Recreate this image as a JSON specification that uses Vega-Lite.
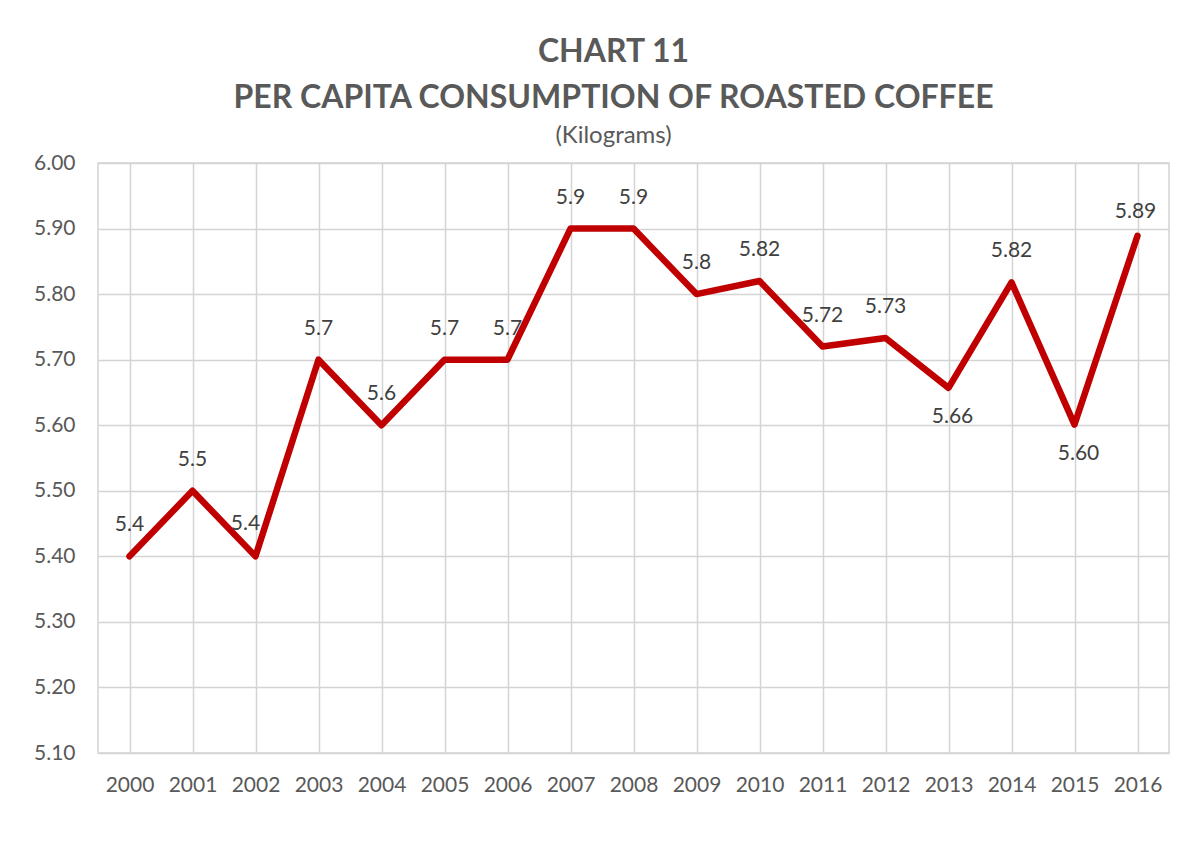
{
  "$schema": "https://vega.github.io/schema/vega-lite/v6.json",
  "width": 1071,
  "height": 590,
  "autosize": {"type": "none"},
  "padding": {"left": 98, "top": 163, "right": 19, "bottom": 95},
  "background": "white",
  "config": {
    "font": "Lato",
    "view": {"stroke": "#d4d4d4", "strokeWidth": 1.5}
  },
  "title": {
    "text": ["CHART 11", "PER CAPITA CONSUMPTION OF ROASTED COFFEE"],
    "subtitle": "(Kilograms)",
    "anchor": "middle",
    "frame": "group",
    "dx": -20,
    "offset": 3,
    "font": "Lato",
    "fontSize": 32,
    "fontWeight": "bold",
    "lineHeight": 46,
    "color": "#595959",
    "subtitleFont": "Lato",
    "subtitleFontSize": 24,
    "subtitleColor": "#595959",
    "subtitlePadding": 9
  },
  "data": {
    "values": [
      {"year": "2000", "value": 5.4, "label": "5.4"},
      {"year": "2001", "value": 5.5, "label": "5.5"},
      {"year": "2002", "value": 5.4, "label": "5.4"},
      {"year": "2003", "value": 5.7, "label": "5.7"},
      {"year": "2004", "value": 5.6, "label": "5.6"},
      {"year": "2005", "value": 5.7, "label": "5.7"},
      {"year": "2006", "value": 5.7, "label": "5.7"},
      {"year": "2007", "value": 5.9, "label": "5.9"},
      {"year": "2008", "value": 5.9, "label": "5.9"},
      {"year": "2009", "value": 5.8, "label": "5.8"},
      {"year": "2010", "value": 5.82, "label": "5.82"},
      {"year": "2011", "value": 5.72, "label": "5.72"},
      {"year": "2012", "value": 5.733, "label": "5.73"},
      {"year": "2013", "value": 5.657, "label": "5.66"},
      {"year": "2014", "value": 5.818, "label": "5.82"},
      {"year": "2015", "value": 5.601, "label": "5.60"},
      {"year": "2016", "value": 5.889, "label": "5.89"}
    ]
  },
  "encoding": {
    "x": {
      "field": "year",
      "type": "ordinal",
      "scale": {"paddingInner": 0, "paddingOuter": 0},
      "axis": {
        "title": null,
        "labelAngle": 0,
        "labelFontSize": 21,
        "labelColor": "#595959",
        "labelPadding": 21,
        "ticks": false,
        "domain": false,
        "grid": true,
        "bandPosition": 0,
        "gridColor": "#d4d4d4",
        "gridWidth": 1.5
      }
    },
    "y": {
      "field": "value",
      "type": "quantitative",
      "scale": {"domain": [5.1, 6.0], "zero": false, "nice": false},
      "axis": {
        "title": null,
        "values": [5.1, 5.2, 5.3, 5.4, 5.5, 5.6, 5.7, 5.8, 5.9, 6.0],
        "format": ".2f",
        "labelFontSize": 21,
        "labelColor": "#595959",
        "labelPadding": 23,
        "ticks": false,
        "domain": false,
        "gridColor": "#d4d4d4",
        "gridWidth": 1.5
      }
    }
  },
  "layer": [
    {
      "mark": {"type": "line", "color": "#C00000", "strokeWidth": 6.5, "strokeCap": "round", "strokeJoin": "round"}
    },
    {
      "transform": [{"filter": "indexof(['2002','2013','2015','2016'], datum.year) < 0"}],
      "mark": {"type": "text", "fontSize": 21, "color": "#404040", "dy": -31, "baseline": "middle"},
      "encoding": {"text": {"field": "label"}}
    },
    {
      "transform": [{"filter": "datum.year == '2002'"}],
      "mark": {"type": "text", "fontSize": 21, "color": "#404040", "dy": -32, "dx": -10, "baseline": "middle"},
      "encoding": {"text": {"field": "label"}}
    },
    {
      "transform": [{"filter": "datum.year == '2016'"}],
      "mark": {"type": "text", "fontSize": 21, "color": "#404040", "dy": -24, "dx": -2, "baseline": "middle"},
      "encoding": {"text": {"field": "label"}}
    },
    {
      "transform": [{"filter": "datum.year == '2013' || datum.year == '2015'"}],
      "mark": {"type": "text", "fontSize": 21, "color": "#404040", "dy": 29, "dx": 4, "baseline": "middle"},
      "encoding": {"text": {"field": "label"}}
    }
  ]
}
